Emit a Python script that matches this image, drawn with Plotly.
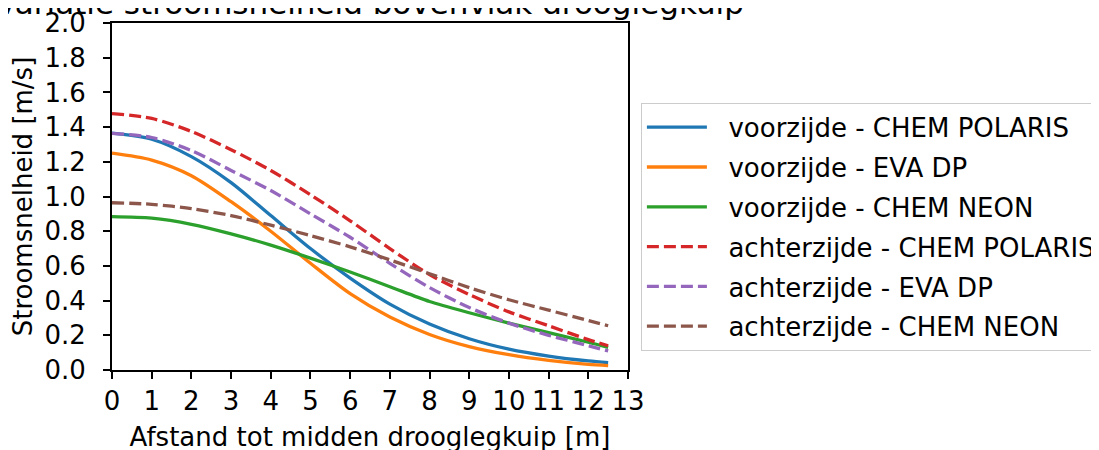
import plotly.graph_objects as go

# ---- data ----
afstand = [0, 1, 2, 3, 4, 5, 6, 7, 8, 9, 10, 11, 12, 12.5]

voor_polaris = [1.365, 1.33, 1.23, 1.08, 0.89, 0.70, 0.53, 0.38, 0.265, 0.18, 0.12, 0.08, 0.052, 0.042]
voor_eva = [1.25, 1.21, 1.12, 0.97, 0.80, 0.615, 0.44, 0.305, 0.205, 0.135, 0.088, 0.055, 0.032, 0.025]
voor_neon = [0.884, 0.875, 0.84, 0.785, 0.72, 0.645, 0.565, 0.48, 0.395, 0.33, 0.27, 0.215, 0.16, 0.13]
achter_polaris = [1.478, 1.45, 1.375, 1.27, 1.15, 1.01, 0.86, 0.70, 0.55, 0.435, 0.335, 0.255, 0.175, 0.14]
achter_eva = [1.364, 1.34, 1.265, 1.15, 1.035, 0.90, 0.765, 0.615, 0.475, 0.36, 0.27, 0.2, 0.14, 0.11]
achter_neon = [0.964, 0.955, 0.93, 0.89, 0.835, 0.775, 0.71, 0.635, 0.555, 0.475, 0.405, 0.345, 0.285, 0.255]

series_names = [
    "voorzijde - CHEM POLARIS",
    "voorzijde - EVA DP",
    "voorzijde - CHEM NEON",
    "achterzijde - CHEM POLARIS",
    "achterzijde - EVA DP",
    "achterzijde - CHEM NEON",
]
series_values = [voor_polaris, voor_eva, voor_neon, achter_polaris, achter_eva, achter_neon]
series_colors = ["#1f77b4", "#ff7f0e", "#2ca02c", "#d62728", "#9467bd", "#8c564b"]
series_dash = ["solid", "solid", "solid", "12px,5px", "12px,5px", "12px,5px"]

x_ticks = list(range(0, 14))
y_ticks = [round(0.2 * i, 1) for i in range(11)]

title_text = "Variatie stroomsnelheid bovenvlak drooglegkuip"
x_title = "Afstand tot midden drooglegkuip [m]"
y_title = "Stroomsnelheid [m/s]"

FONT = "DejaVu Sans"
PAD = "\u00a0\u00a0"

fig = go.Figure()
for i, (name, vals, col, dash) in enumerate(zip(series_names, series_values, series_colors, series_dash)):
    fig.add_trace(go.Scatter(
        x=afstand, y=vals, mode="lines", name=PAD + name, legendgroup=f"g{i}",
        line=dict(color=col, width=3.3, dash=dash, shape="spline", smoothing=0.8),
    ))

axis_common = dict(
    showgrid=False, zeroline=False, showline=True, linecolor="black", linewidth=2,
    mirror=True, ticks="outside", ticklen=7, tickwidth=2, tickcolor="black",
    tickfont=dict(family=FONT, size=26, color="black"),
)

fig.update_xaxes(range=[0, 13], tickvals=x_ticks, ticktext=[str(v) for v in x_ticks],
                 title=dict(text=x_title, font=dict(family=FONT, size=26, color="black"), standoff=13),
                 **axis_common)
fig.update_yaxes(range=[0, 2.0], tickvals=y_ticks, ticktext=[f"{v:.1f}" for v in y_ticks],
                 ticklabelstandoff=12,
                 title=dict(text=y_title, font=dict(family=FONT, size=26, color="black"), standoff=4),
                 **axis_common)

fig.add_annotation(text=title_text, xref="paper", yref="paper", x=0.5, y=1.0,
                   xanchor="center", yanchor="bottom", showarrow=False,
                   font=dict(family=FONT, size=31, color="black"))

fig.update_layout(
    width=1099, height=450,
    margin=dict(l=104, r=479, t=15, b=88, autoexpand=False),
    paper_bgcolor="white", plot_bgcolor="white",
    showlegend=True,
    legend=dict(x=1.025, y=0.77, xanchor="left", yanchor="top",
                traceorder="grouped", tracegroupgap=3,
                bordercolor="#cccccc", borderwidth=1, bgcolor="white",
                font=dict(family=FONT, size=26, color="black"),
                itemwidth=60),
    font=dict(family=FONT, color="black"),
)

fig.write_html("out.html")
